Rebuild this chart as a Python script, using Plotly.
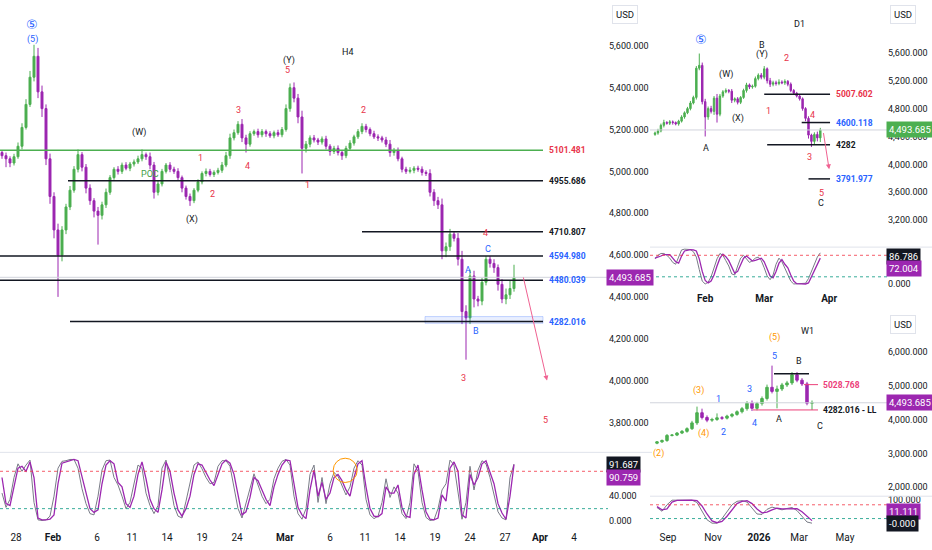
import plotly.graph_objects as go

GREEN = "#4caf50"
PURPLE = "#9c27b0"
RED = "#e8334a"
BLUE = "#2962ff"
BLACK = "#131722"
ORANGE = "#ff9800"
GRAY = "#787b86"
FONT = "Roboto"

# ---------------- H4 (main chart) ----------------
h4_first_open = 5090
h4_close = [
    5075, 5060, 5040, 5070, 5120, 5210, 5320, 5450, 5550, 5380,
    5300, 5060, 4880, 4720, 4600, 4720, 4830, 4910, 5010, 5080,
    5020, 4920, 4860, 4810, 4790, 4840, 4900, 4970, 5010, 5000,
    5030, 5015, 5035, 5045, 5060, 5080, 5070, 5030, 4900, 4940,
    5000, 5030, 5010, 5000, 4970, 4920, 4880, 4860, 4910, 4950,
    4990, 5000, 4985, 4995, 5005, 5030, 5075, 5160, 5185, 5225,
    5160, 5130, 5180, 5190, 5175, 5190, 5180, 5170, 5185, 5175,
    5200, 5300, 5400, 5350, 5260, 5110, 5130, 5160, 5150, 5140,
    5155, 5120, 5095, 5110, 5090, 5075, 5110, 5135, 5165, 5190,
    5215, 5200, 5180, 5165, 5160, 5150, 5130, 5090, 5100, 5060,
    5010, 5000, 5005, 5015, 5010, 4995, 4990, 4900, 4860, 4840,
    4620, 4640, 4700, 4680, 4580, 4330, 4300, 4500, 4390, 4380,
    4470, 4580, 4560, 4540, 4460, 4390, 4410, 4440, 4493.685,
]
h4_up = [
    10, 15, 12, 14, 18, 20, 25, 30, 55, 40,
    30, 20, 25, 20, 30, 18, 15, 20, 15, 25,
    12, 15, 18, 12, 20, 15, 18, 12, 10, 15,
    12, 14, 10, 12, 15, 25, 10, 20, 15, 18,
    12, 10, 14, 12, 15, 10, 12, 14, 10, 12,
    10, 14, 12, 10, 12, 15, 18, 20, 15, 15,
    25, 15, 12, 10, 14, 12, 10, 12, 10, 14,
    12, 20, 20, 25, 20, 30, 15, 12, 14, 10,
    12, 15, 10, 12, 14, 10, 12, 14, 10, 12,
    15, 12, 10, 14, 12, 10, 15, 20, 12, 14,
    10, 12, 15, 10, 12, 14, 10, 20, 15, 18,
    30, 20, 25, 15, 25, 40, 30, 30, 25, 15,
    20, 15, 15, 20, 15, 25, 30, 40, 60,
]
h4_dn = [
    15, 40, 20, 12, 10, 15, 10, 12, 20, 30,
    40, 30, 35, 40, 200, 30, 20, 15, 12, 15,
    20, 25, 20, 30, 140, 20, 15, 12, 10, 15,
    12, 10, 14, 12, 10, 12, 15, 20, 30, 15,
    12, 10, 14, 12, 15, 20, 15, 25, 12, 10,
    12, 14, 10, 12, 10, 12, 10, 15, 12, 10,
    20, 40, 12, 10, 14, 12, 15, 10, 12, 10,
    12, 10, 15, 20, 30, 120, 20, 15, 12, 14,
    12, 15, 20, 12, 14, 20, 12, 10, 12, 10,
    12, 14, 12, 10, 15, 12, 14, 20, 15, 12,
    15, 12, 10, 14, 12, 15, 12, 20, 25, 20,
    40, 30, 20, 15, 30, 60, 200, 30, 40, 25,
    20, 15, 20, 25, 30, 20, 25, 20, 15,
]
h4_stoch_k = [
    45, 22, 35, 70, 92, 80, 90, 98, 30, 2,
    1, 2, 8, 40, 85, 96, 97, 99, 99, 85,
    52, 28, 12, 10, 40, 82, 97, 98, 70, 58,
    40, 20, 30, 62, 90, 85, 45, 25, 12, 25,
    85, 98, 62, 25, 8, 5, 32, 60, 90, 95,
    84, 70, 60, 62, 88, 97, 97, 88, 55, 20,
    5, 28, 55, 76, 58, 40, 28, 35, 68, 85,
    96, 99, 90, 40, 12, 3, 20, 75, 90, 30,
    70, 28, 60, 78, 72, 58, 42, 55, 85, 97,
    90, 35, 10, 4, 8, 30, 68, 38, 55, 45,
    12, 4, 30, 92, 80, 30, 6, 1, 2, 20,
    50, 60, 98, 90, 50, 3, 30, 88, 50, 82,
    97, 92, 70, 42, 15, 5, 2, 70, 91.687,
]
h4_stoch_d = [
    70, 28, 25, 55, 85, 88, 80, 95, 70, 5,
    2, 2, 3, 10, 60, 93, 95, 98, 99, 97,
    70, 45, 20, 14, 18, 60, 90, 97, 92, 62,
    55, 28, 22, 40, 75, 95, 68, 35, 20, 14,
    50, 95, 80, 45, 18, 8, 20, 40, 75, 92,
    90, 78, 66, 57, 75, 92, 98, 93, 75, 45,
    10, 15, 38, 70, 65, 50, 35, 25, 55, 75,
    90, 98, 97, 60, 22, 10, 4, 50, 82, 40,
    62, 35, 45, 70, 75, 65, 50, 40, 70, 92,
    97, 55, 20, 8, 7, 12, 55, 45, 45, 58,
    22, 8, 6, 75, 90, 50, 15, 3, 2, 5,
    42, 32, 85, 95, 80, 10, 5, 75, 58, 70,
    92, 97, 80, 60, 28, 13, 3, 40, 90.759,
]
h4_tick_pos = [3.5, 12.75, 23.75, 32.5, 41.25, 50, 58.75, 70.75, 82, 90.75,
               99.5, 108.25, 117, 125.75, 134.5, 143]
h4_tick_text = ["28", "<b>Feb</b>", "6", "11", "14", "19", "24", "<b>Mar</b>", "6", "11",
                "14", "19", "24", "27", "<b>Apr</b>", "4"]
h4_levels = [5101.481, 4955.686, 4710.807, 4594.980, 4480.039, 4282.016]
h4_level_text = ["5101.481", "4955.686", "4710.807", "4594.980", "4480.039", "4282.016"]

# ---------------- D1 inset ----------------
d1_first_open = 4430
d1_close = [
    4450, 4480, 4560, 4600, 4590, 4610, 4600, 4580, 4620, 4680,
    4740, 4800, 4880, 4960, 5380, 5420, 4900, 4680, 4800, 4760,
    4950, 4720, 4980, 5040, 5060, 5050, 4920, 4940, 4890, 4960,
    5060, 5140, 5110, 5120, 5230, 5280, 5250, 5370, 5200, 5150,
    5170, 5160, 5180, 5170, 5190, 5150, 5060, 5020, 4980, 4940,
    4800, 4660, 4420, 4330, 4430, 4380, 4493.685,
]
d1_up = [
    20, 30, 25, 40, 20, 25, 20, 15, 20, 25,
    20, 25, 30, 25, 30, 170, 40, 40, 30, 40,
    30, 60, 30, 25, 30, 20, 30, 20, 25, 20,
    25, 30, 20, 25, 30, 25, 30, 40, 20, 40,
    30, 30, 40, 25, 30, 20, 25, 20, 20, 25,
    20, 20, 30, 20, 30, 40, 30,
]
d1_dn = [
    20, 25, 20, 30, 20, 25, 30, 20, 25, 20,
    25, 20, 25, 20, 30, 30, 40, 280, 40, 30,
    50, 120, 30, 25, 20, 30, 40, 30, 30, 25,
    20, 30, 30, 25, 20, 25, 30, 30, 40, 40,
    30, 30, 25, 20, 30, 30, 25, 20, 20, 25,
    30, 40, 50, 80, 40, 50, 60,
]
d1_stoch_k = [
    70, 80, 85, 85, 80, 72, 60, 55, 75, 95,
    97, 97, 96, 90, 75, 40, 8, 0, 5, 20,
    45, 70, 85, 80, 65, 50, 28, 25, 50, 72,
    80, 70, 60, 65, 72, 75, 65, 45, 22, 12,
    25, 55, 72, 62, 45, 28, 8, 0, 0, 0,
    0, 2, 15, 35, 55, 75, 86.786,
]
d1_stoch_d = [
    72, 74, 78, 82, 83, 82, 72, 62, 58, 78,
    92, 95, 96, 95, 92, 70, 35, 10, 3, 8,
    25, 50, 72, 83, 76, 65, 45, 30, 35, 55,
    72, 78, 70, 64, 66, 70, 72, 62, 40, 22,
    17, 35, 58, 68, 55, 45, 25, 8, 1, 0,
    0, 0, 3, 20, 40, 58, 72.004,
]
d1_tick_pos = [17, 37, 59]
d1_tick_text = ["<b>Feb</b>", "<b>Mar</b>", "<b>Apr</b>"]
d1_levels = [5007.602, 4600.118, 4282, 3791.977]
d1_level_text = ["5007.602", "4600.118", "4282", "3791.977"]

# ---------------- W1 inset ----------------
w1_first_open = 3300
w1_close = [
    3340, 3380, 3530, 3540, 3600, 3650, 3730, 3900, 4200, 4060,
    3980, 4000, 4050, 4040, 4100, 4150, 4230, 4320, 4480, 4330,
    4470, 4620, 4950, 4830, 4900, 5020, 5080, 5320, 5160, 5050,
    4480, 4493.685,
]
w1_up = [
    20, 30, 40, 30, 30, 40, 40, 60, 180, 120,
    60, 50, 130, 50, 40, 40, 40, 50, 60, 80,
    50, 60, 80, 640, 100, 60, 60, 80, 80, 60,
    60, 67,
]
w1_dn = [
    30, 30, 40, 30, 30, 30, 40, 40, 60, 60,
    60, 50, 40, 50, 40, 40, 40, 50, 60, 80,
    60, 60, 60, 60, 500, 60, 60, 60, 60, 60,
    60, 200,
]
w1_stoch_k = [
    68, 52, 80, 100, 100, 100, 100, 100, 90, 55,
    15, 0, 0, 20, 50, 80, 95, 98, 92, 65,
    40, 38, 60, 70, 64, 58, 64, 68, 55, 30,
    5, 0,
]
w1_stoch_d = [
    72, 58, 62, 92, 99, 100, 100, 100, 98, 75,
    40, 10, 2, 8, 30, 60, 85, 95, 98, 85,
    62, 45, 48, 58, 65, 62, 62, 64, 63, 50,
    30, 11.111,
]
w1_tick_pos = [2.2, 11.2, 20.4, 28.4, 37.6]
w1_tick_text = ["Sep", "Nov", "<b>2026</b>", "Mar", "May"]
w1_levels = [5353, 5028.768, 4282.016]

last_price = 4493.685


def px(x):
    return x / 932


def py(y):
    return 1 - y / 550


def add_panel(fig, first_open, closes, up, dn, k, d, xa, ya, yo):
    opens = [first_open] + closes[:-1]
    highs = [max(o, c) + u for o, c, u in zip(opens, closes, up)]
    lows = [min(o, c) - w for o, c, w in zip(opens, closes, dn)]
    xs = list(range(len(closes)))
    fig.add_trace(go.Candlestick(
        x=xs, open=opens, high=highs, low=lows, close=closes,
        xaxis=xa, yaxis=ya, whiskerwidth=0, hoverinfo="skip", showlegend=False,
        increasing=dict(line=dict(color=GREEN, width=1), fillcolor=GREEN),
        decreasing=dict(line=dict(color=PURPLE, width=1), fillcolor=PURPLE)))
    fig.add_trace(go.Scatter(x=xs, y=k, mode="lines", xaxis=xa, yaxis=yo,
                             line=dict(color=GRAY, width=1), showlegend=False, hoverinfo="skip"))
    fig.add_trace(go.Scatter(x=xs, y=d, mode="lines", xaxis=xa, yaxis=yo,
                             line=dict(color=PURPLE, width=1.3), showlegend=False, hoverinfo="skip"))


fig = go.Figure()
add_panel(fig, h4_first_open, h4_close, h4_up, h4_dn, h4_stoch_k, h4_stoch_d, "x", "y", "y2")
add_panel(fig, d1_first_open, d1_close, d1_up, d1_dn, d1_stoch_k, d1_stoch_d, "x2", "y3", "y4")
add_panel(fig, w1_first_open, w1_close, w1_up, w1_dn, w1_stoch_k, w1_stoch_d, "x3", "y5", "y6")

shapes = []
ann = []


def hline(xr, yr, x0, x1, y, color, width=1.5, dash="solid"):
    shapes.append(dict(type="line", xref=xr, yref=yr, x0=x0, x1=x1, y0=y, y1=y,
                       line=dict(color=color, width=width, dash=dash), layer="above"))


def label(xr, yr, x, y, text, color, size=9, anchor="center", family=FONT):
    ann.append(dict(xref=xr, yref=yr, x=x, y=y, text=text, showarrow=False,
                    xanchor=anchor, yanchor="middle",
                    font=dict(color=color, size=size, family=family)))


def box(xr, yr, x, y, text, bg):
    ann.append(dict(xref=xr, yref=yr, x=x, y=y, text=text, showarrow=False,
                    xanchor="left", yanchor="middle", bgcolor=bg, borderpad=2,
                    font=dict(color="white", size=9.5, family=FONT)))


def usd(x, y):
    ann.append(dict(xref="paper", yref="paper", x=x, y=y, text="USD", showarrow=False,
                    xanchor="left", yanchor="middle", bgcolor="white", bordercolor="#e0e3eb",
                    borderwidth=1, borderpad=3, font=dict(color=BLACK, size=9.5, family=FONT)))


def arrow(xr, yr, x0, y0, x1, y1):
    ann.append(dict(xref=xr, yref=yr, axref=xr, ayref=yr, x=x1, y=y1, ax=x0, ay=y0,
                    text="", showarrow=True, arrowhead=2, arrowsize=1, arrowwidth=1,
                    arrowcolor="#f06292"))


def bands(xr, yr):
    hline(xr, yr, 0, 1, 80, "rgba(242,54,69,0.8)", 1, "3px,3px")
    hline(xr, yr, 0, 1, 20, "rgba(8,153,129,0.8)", 1, "3px,3px")


# ---- main chart decorations ----
hline("x", "y", -0.5, 151.5, last_price, "#d1d4dc", 1)
shapes.append(dict(type="rect", xref="x", yref="y", x0=105.75, x1=135.25, y0=4274, y1=4306,
                   fillcolor="rgba(41,98,255,0.10)", line=dict(color="rgba(41,98,255,0.25)", width=1)))
h4_starts = [-0.5, 16.5, 90, -0.5, -0.5, 17]
h4_cols = [GREEN, BLACK, BLACK, BLACK, BLACK, BLACK]
h4_txt_cols = [RED, BLACK, BLACK, BLUE, BLUE, BLUE]
for lv, st, c, tc, t in zip(h4_levels, h4_starts, h4_cols, h4_txt_cols, h4_level_text):
    hline("x", "y", st, 135.25, lv, c, 1.5)
    label("x", "y", 136.3, lv, "<b>" + t + "</b>", tc, 8.5, "left")

bands("x domain", "y2")
shapes.append(dict(type="circle", xref="x", yref="y2", x0=82.8, x1=88.8, y0=62, y1=101,
                   line=dict(color=ORANGE, width=1)))
shapes.append(dict(type="line", xref="paper", yref="paper", x0=0, x1=px(652), y0=py(452), y1=py(452),
                   line=dict(color="#e0e3eb", width=1)))

h4_labels = [
    ("⑤", 7.5, 5700, BLUE), ("(5)", 7.5, 5628, BLUE), ("(W)", 34.25, 5186, BLACK),
    ("(X)", 47.5, 4771, BLACK), ("(Y)", 71.75, 5529, BLACK), ("5", 71.25, 5486, RED),
    ("1", 49.5, 5062, RED), ("2", 52.5, 4890, RED), ("3", 59, 5295, RED), ("4", 61.25, 5024, RED),
    ("1", 76.25, 4933, RED), ("2", 90.25, 5295, RED), ("4", 120.75, 4705, RED),
    ("3", 115.25, 4014, RED), ("5", 135.75, 3810, RED), ("A", 116.5, 4529, BLUE),
    ("B", 118.5, 4238, BLUE), ("C", 121.5, 4629, BLUE), ("POC", 37, 4986, "#43a047"),
    ("H4", 86.25, 5571, BLACK),
]
for t, x, y, c in h4_labels:
    if t == "⑤":
        label("x", "y", x, y, t, c, 13, "center", "DejaVu Sans")
    else:
        label("x", "y", x, y, t, c)
arrow("x", "y", 130.25, 4500, 136.25, 4000)
box("paper", "y", px(606), last_price, "4,493.685", PURPLE)
box("paper", "paper", px(606), py(464), "91.687", BLACK)
box("paper", "paper", px(606), py(477), "90.759", PURPLE)
usd(px(612), py(13))

# ---- D1 decorations ----
hline("x2", "y3", -1.7, 78.6, last_price, "#d1d4dc", 1)
d1_starts = [37, 49.7, 38, 52]
d1_txt_cols = [RED, BLUE, BLACK, BLUE]
for lv, st, tc, t in zip(d1_levels, d1_starts, d1_txt_cols, d1_level_text):
    hline("x2", "y3", st, 59.3, lv, BLACK, 1.5)
    label("x2", "y3", 60.6, lv, "<b>" + t + "</b>", tc, 8.5, "left")
bands("x2 domain", "y4")
shapes.append(dict(type="line", xref="paper", yref="paper", x0=px(650), x1=1, y0=py(246), y1=py(246),
                   line=dict(color="#e0e3eb", width=1)))
d1_labels = [
    ("⑤", 15.5, 5786, BLUE), ("A", 17.3, 4229, BLACK), ("(W)", 24, 5286, BLACK),
    ("(X)", 28.2, 4657, BLACK), ("B", 36.3, 5714, BLACK), ("(Y)", 36.3, 5571, BLACK),
    ("1", 38.3, 4771, RED), ("2", 44.4, 5529, RED), ("4", 53.2, 4714, RED),
    ("3", 52.2, 4100, RED), ("5", 56.3, 3586, RED), ("C", 56.3, 3443, BLACK),
]
for t, x, y, c in d1_labels:
    if t == "⑤":
        label("x2", "y3", x, y, t, c, 13, "center", "DejaVu Sans")
    else:
        label("x2", "y3", x, y, t, c)
label("paper", "paper", px(799), py(22), "D1", BLACK, 9)
arrow("x2", "y3", 57, 4471, 59, 3929)
box("paper", "y3", px(886), last_price, "4,493.685", GREEN)
box("paper", "paper", px(886), py(255), "86.786", BLACK)
box("paper", "paper", px(886), py(267), "72.004", PURPLE)
usd(px(890), py(13))

# ---- W1 decorations ----
hline("x3", "y5", -1.4, 46, last_price, "#d1d4dc", 1)
hline("x3", "y5", 23.4, 30.4, w1_levels[0], BLACK, 1.5)
hline("x3", "y5", 29.4, 32.2, w1_levels[1], "#ec407a", 1)
hline("x3", "y5", 19.2, 32.2, w1_levels[2], "#ec407a", 1)
label("x3", "y5", 32.8, w1_levels[1], "<b>5028.768</b>", "#ec407a", 8.5, "left")
label("x3", "y5", 32.8, w1_levels[2], "<b>4282.016 - LL</b>", BLACK, 8.5, "left")
bands("x3 domain", "y6")
shapes.append(dict(type="line", xref="paper", yref="paper", x0=px(650), x1=1, y0=py(496), y1=py(496),
                   line=dict(color="#e0e3eb", width=1)))
w1_labels = [
    ("(5)", 23.4, 6412, ORANGE), ("(3)", 8.2, 4853, ORANGE), ("(4)", 9.2, 3589, ORANGE),
    ("(2)", 0.2, 3001, ORANGE), ("1", 12.2, 4618, BLUE), ("2", 13.2, 3619, BLUE),
    ("3", 18.4, 4912, BLUE), ("4", 19.4, 3883, BLUE), ("5", 23.4, 5882, BLUE),
    ("B", 28.4, 5735, BLACK), ("A", 24.4, 4001, BLACK), ("C", 32.6, 3795, BLACK),
]
for t, x, y, c in w1_labels:
    label("x3", "y5", x, y, t, c)
label("paper", "paper", px(807), py(330), "W1", BLACK, 9)
box("paper", "y5", px(886), last_price, "4,493.685", PURPLE)
box("paper", "paper", px(886), py(511), "11.111", PURPLE)
box("paper", "paper", px(886), py(523), "-0.000", BLACK)
usd(px(890), py(324))

tickfont = dict(family=FONT, size=10, color=BLACK)
ytickfont = dict(family=FONT, size=9, color=BLACK)
xcommon = dict(showgrid=False, zeroline=False, showline=False, ticks="", tickfont=tickfont,
               rangeslider=dict(visible=False), fixedrange=True)
ycommon = dict(showgrid=False, zeroline=False, showline=False, ticks="", side="right",
               tickfont=ytickfont, tickformat=",.3f", fixedrange=True)

fig.update_layout(
    width=932, height=550, margin=dict(l=0, r=0, t=0, b=0),
    paper_bgcolor="white", plot_bgcolor="white", showlegend=False,
    shapes=shapes, annotations=ann,
    xaxis=dict(xcommon, domain=[0, px(608)], range=[-0.5, 151.5], anchor="y2",
               tickmode="array", tickvals=h4_tick_pos, ticktext=h4_tick_text),
    yaxis=dict(ycommon, domain=[py(452), 1], range=[3657, 5809.5], anchor="x",
               tickvals=[3800, 4000, 4200, 4400, 4600, 4800, 5000, 5200, 5400, 5600]),
    yaxis2=dict(ycommon, domain=[py(530), py(455)], range=[-14.4, 105.6], anchor="x",
                tickvals=[0, 40]),
    xaxis2=dict(xcommon, domain=[px(650), px(887)], range=[-1.7, 78.6], anchor="y4",
                tickmode="array", tickvals=d1_tick_pos, ticktext=d1_tick_text),
    yaxis3=dict(ycommon, domain=[py(245), py(20)], range=[2828, 6043], anchor="x2",
                tickvals=[3200, 3600, 4000, 4400, 4800, 5200, 5600]),
    yaxis4=dict(ycommon, domain=[py(290), py(247)], range=[-19.4, 100], anchor="x2",
                tickvals=[0]),
    xaxis3=dict(xcommon, domain=[px(650), px(887)], range=[-1.4, 46], anchor="y6",
                tickmode="array", tickvals=w1_tick_pos, ticktext=w1_tick_text),
    yaxis5=dict(ycommon, domain=[py(497), py(322)], range=[1707, 6853], anchor="x3",
                tickvals=[2000, 3000, 4000, 5000, 6000]),
    yaxis6=dict(ycommon, domain=[py(530), py(497)], range=[-30, 113], anchor="x3",
                tickvals=[100]),
)

fig.write_html("out.html", config={"displayModeBar": False},
               post_script="document.body.style.margin='0';")
